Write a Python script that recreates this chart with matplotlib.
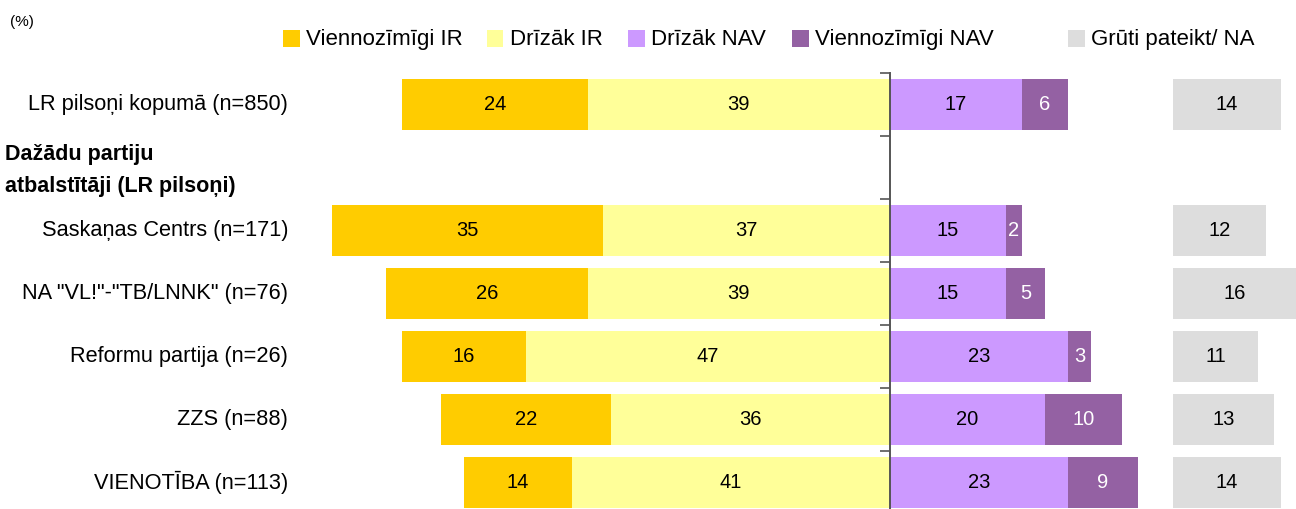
import matplotlib
matplotlib.use("Agg")
import matplotlib.pyplot as plt
from matplotlib.patches import Rectangle

# ---- data ----
labels = ["LR pilsoņi kopumā (n=850)", "", "Saskaņas Centrs (n=171)",
          "NA \"VL!\"-\"TB/LNNK\" (n=76)", "Reformu partija (n=26)",
          "ZZS (n=88)", "VIENOTĪBA (n=113)"]
rows = [0, 2, 3, 4, 5, 6]
yes_def = [24, 35, 26, 16, 22, 14]
yes_rather = [39, 37, 39, 47, 36, 41]
no_rather = [17, 15, 15, 23, 20, 23]
no_def = [6, 2, 5, 3, 10, 9]
hard_na = [14, 12, 16, 11, 13, 14]
row_labels = [labels[r] for r in rows]
header = "Dažādu partiju\natbalstītāji (LR pilsoņi)"
legend_names = ["Viennozīmīgi IR", "Drīzāk IR", "Drīzāk NAV", "Viennozīmīgi NAV",
                "Grūti pateikt/ NA"]

# ---- style ----
ORANGE = "#FFCC00"
YELLOW = "#FFFF99"
LILAC = "#CC99FF"
PURPLE = "#9461A3"
GRAY = "#DDDDDD"
colors = [ORANGE, YELLOW, LILAC, PURPLE, GRAY]

plt.rcParams["font.family"] = ["Liberation Sans Narrow", "Liberation Sans", "DejaVu Sans"]
LAB = ["Liberation Sans", "DejaVu Sans"]
NUM = ["Liberation Sans Narrow", "Liberation Sans", "DejaVu Sans"]

W, H = 1296, 509
PX = 7.75          # pixels per percent
ZERO = 890         # pixel x of the zero line
NA_START = 36.5    # where the grey bars begin (in % units)

fig = plt.figure(figsize=(W / 100, H / 100), dpi=100)
ax = fig.add_axes([0, 0, 1, 1 - 73 / H])
ax.set_xlim(-ZERO / PX, (W - ZERO) / PX)
ax.set_ylim(6.42, -0.5)

bh = 0.81
left_in = [-(a + b) for a, b in zip(yes_def, yes_rather)]
ax.barh(rows, yes_def, left=left_in, height=bh, color=ORANGE, lw=0)
ax.barh(rows, [-v for v in yes_rather], height=bh, color=YELLOW, lw=0)
ax.barh(rows, no_rather, height=bh, color=LILAC, lw=0)
ax.barh(rows, no_def, left=no_rather, height=bh, color=PURPLE, lw=0)
ax.barh(rows, hard_na, left=NA_START, height=bh, color=GRAY, lw=0)

for i, r in enumerate(rows):
    segs = [(left_in[i], yes_def[i], "black"),
            (-yes_rather[i], yes_rather[i], "black"),
            (0, no_rather[i], "black"),
            (no_rather[i], no_def[i], "white"),
            (NA_START, hard_na[i], "black")]
    for x0, w, c in segs:
        ax.text(x0 + w / 2, r, str(w), ha="center", va="center", color=c,
                fontsize=14.5, family=NUM)

for r, lab in zip(rows, row_labels):
    ax.text(-(ZERO - 288) / PX, r, lab, ha="right", va="center", fontsize=15.7,
            family=LAB)
ax.text(-(ZERO - 5) / PX, 1.05, header, ha="left", va="center", fontsize=15.5,
        fontweight="bold", family=LAB, linespacing=1.65)

# ---- zero axis with boundary ticks ----
for k in ["top", "right", "bottom"]:
    ax.spines[k].set_visible(False)
ax.spines["left"].set_position(("data", 0))
ax.spines["left"].set_color("#555555")
ax.spines["left"].set_linewidth(1.4)
ax.set_xticks([])
ax.set_yticks([-0.5, 0.5, 1.5, 2.5, 3.5, 4.5, 5.5])
ax.set_yticklabels([])
ax.tick_params(axis="y", direction="out", length=7, width=1.2, color="#555555")

# ---- legend ----
leg_x = [283, 487, 628, 792, 1068]
for x, name, c in zip(leg_x, legend_names, colors):
    fig.patches.append(Rectangle((x / W, 1 - 47 / H), 16.5 / W, 17 / H,
                                 transform=fig.transFigure, color=c, lw=0))
    fig.text((x + 23) / W, 1 - 39.5 / H, name, ha="left", va="center",
             fontsize=16, family=LAB)

fig.text(10 / W, 1 - 22 / H, "(%)", ha="left", va="center", fontsize=11, family=LAB)

fig.savefig("out.png", dpi=100, facecolor="white")
